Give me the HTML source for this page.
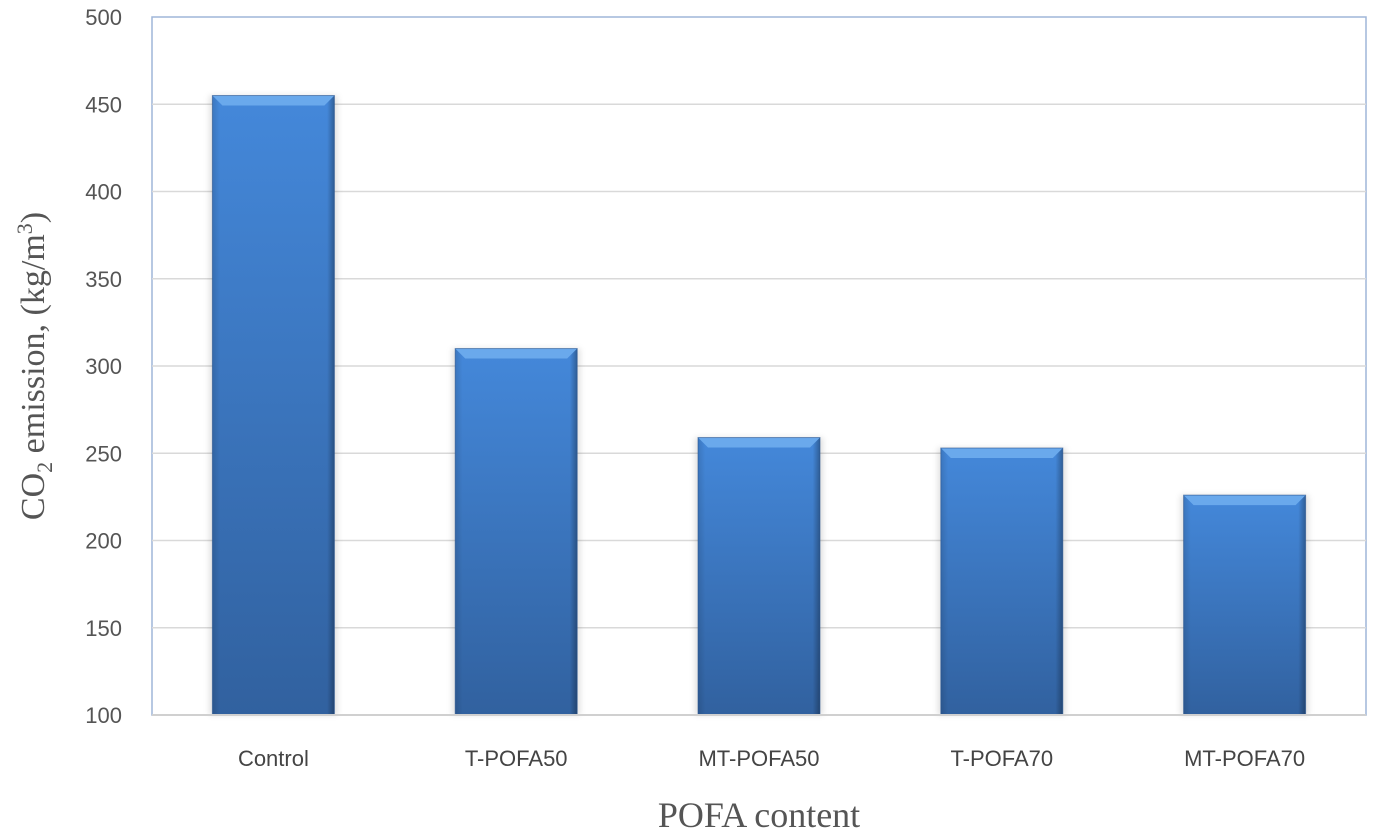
<!DOCTYPE html>
<html><head><meta charset="utf-8"><style>
html,body{margin:0;padding:0;background:#fff;}
svg{display:block;}
</style></head><body>
<svg id="chart" width="1373" height="836" xmlns="http://www.w3.org/2000/svg">
<defs>
<linearGradient id="barGrad" x1="0" y1="0" x2="0" y2="1">
<stop offset="0" stop-color="#4488da"/>
<stop offset="1" stop-color="#31619f"/>
</linearGradient>
<linearGradient id="sideGrad" x1="0" y1="0" x2="1" y2="0">
<stop offset="0" stop-color="#000" stop-opacity="0.12"/>
<stop offset="0.06" stop-color="#000" stop-opacity="0"/>
<stop offset="0.94" stop-color="#000" stop-opacity="0"/>
<stop offset="1" stop-color="#000" stop-opacity="0.3"/>
</linearGradient>
<filter id="shadow" x="-10%" y="-10%" width="120%" height="120%"><feGaussianBlur stdDeviation="3"/></filter>
</defs>
<rect x="152" y="17" width="1214" height="698" fill="none" stroke="#9fb6d8" stroke-width="1.5"/>
<g id="grid"></g>
<g id="bars"></g>
<line x1="152" y1="715" x2="1366" y2="715" stroke="#d0d0d0" stroke-width="2"/>
<g id="yticks" font-family="Liberation Sans, sans-serif" font-size="22" fill="#555"></g>
<g id="xticks" font-family="Liberation Sans, sans-serif" font-size="22" fill="#444"></g>
<text transform="translate(44,366) rotate(-90)" text-anchor="middle" font-family="Liberation Serif, serif" font-size="34" fill="#555">CO<tspan font-size="22" dy="8">2</tspan><tspan dy="-8"> emission, (kg/m</tspan><tspan font-size="22" dy="-12">3</tspan><tspan dy="12">)</tspan></text>
<text x="759" y="827" text-anchor="middle" font-family="Liberation Serif, serif" font-size="36" fill="#555">POFA content</text>
</svg>
<script>
const categories = ["Control","T-POFA50","MT-POFA50","T-POFA70","MT-POFA70"];
const values = [455, 310, 259, 253, 226];
const yTicks = [100,150,200,250,300,350,400,450,500];
const NS="http://www.w3.org/2000/svg";
const L=152,R=1366,T=17,B=715,ymin=100,ymax=500;
const y=v=>B-(v-ymin)/(ymax-ymin)*(B-T);
const bw=(R-L)/categories.length;
const xc=i=>L+bw*(i+0.5);
const barW=122;
function mk(tag,attrs,parent){const e=document.createElementNS(NS,tag);for(const k in attrs)e.setAttribute(k,attrs[k]);parent.appendChild(e);return e;}
const grid=document.getElementById('grid'),yt=document.getElementById('yticks'),xt=document.getElementById('xticks'),bars=document.getElementById('bars');
yTicks.forEach(v=>{
  if(v>ymin&&v<ymax){const g=mk('line',{x1:L,x2:R,y1:y(v),y2:y(v),stroke:'#d9d9d9','stroke-width':1.5},grid);
  
  }
  const t=mk('text',{x:L-30,y:y(v)+8,'text-anchor':'end'},yt);t.textContent=v;
  
  
});
categories.forEach((c,i)=>{
  const x0=xc(i)-barW/2,top=y(values[i]),h=B-top;
  const g=mk('g',{},bars);
  
  
  mk('rect',{x:x0-3,y:top,width:barW+6,height:h,fill:'#000','fill-opacity':0.12,filter:'url(#shadow)'},g);
  mk('rect',{x:x0,y:top,width:barW,height:h,fill:'url(#barGrad)'},g);
  mk('rect',{x:x0,y:top,width:barW,height:h,fill:'url(#sideGrad)'},g);
  mk('polygon',{points:`${x0},${top} ${x0+barW},${top} ${x0+barW-10},${top+10} ${x0+10},${top+10}`,fill:'#6aa9ec'},g);
  mk('rect',{x:x0,y:top,width:barW,height:h,fill:'none',stroke:'#2a5590','stroke-width':1,'stroke-opacity':0.6},g);
  const t=mk('text',{x:xc(i),y:766,'text-anchor':'middle'},xt);t.textContent=c;
  
  
});
</script>
</body></html>
